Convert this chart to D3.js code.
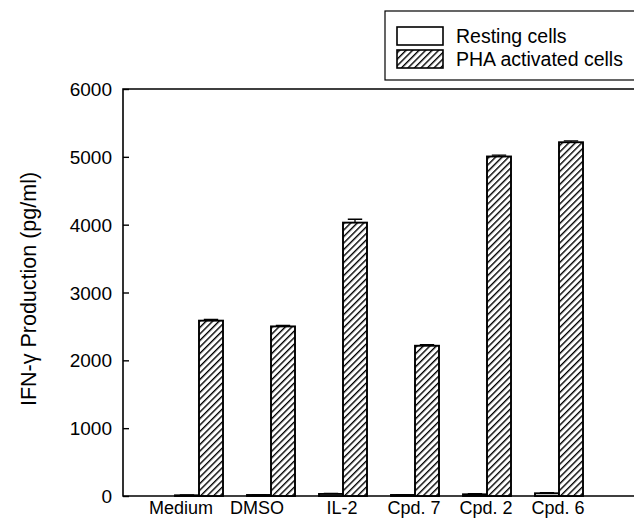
<!DOCTYPE html>
<html><head><meta charset="utf-8">
<script src="https://cdn.jsdelivr.net/npm/d3@7"></script>
<style>body{margin:0;background:#fff}svg{display:block}text{font-family:"Liberation Sans",Arial,sans-serif;fill:#000}</style>
</head><body><svg id="c" width="634" height="518"></svg>
<script>
const categories = ["Medium","DMSO","IL-2","Cpd. 7","Cpd. 2","Cpd. 6"];
const series = ["Resting cells","PHA activated cells"];
const resting = [10, 15, 30, 15, 25, 40];
const restingErr = [5, 5, 10, 5, 10, 10];
const pha = [2585, 2500, 4030, 2215, 5005, 5215];
const phaErr = [20, 15, 50, 15, 20, 20];
const yTicks = [0,1000,2000,3000,4000,5000,6000];

const svg = d3.select("#c");
const mLeft = 123, mRight = 640, mTop = 89, mBottom = 496;
const y = d3.scaleLinear().domain([0,6000]).range([mBottom, mTop]);
const x = d3.scaleBand().domain(categories).range([126, 630]).paddingOuter(0.5).paddingInner(0);
const bw = x.bandwidth();
const xs = d3.scaleBand().domain(series).range([bw/2-23, bw/2+25]);

const defs = svg.append("defs");
const pat = defs.append("pattern").attr("id","hatch").attr("patternUnits","userSpaceOnUse")
  .attr("width",4.6).attr("height",4.6).attr("patternTransform","rotate(45)");
pat.append("rect").attr("width",4.6).attr("height",4.6).attr("fill","#fff");
pat.append("line").attr("x1",0).attr("y1",0).attr("x2",0).attr("y2",4.6).attr("stroke","#000").attr("stroke-width",2.8);

// frame
svg.append("path").attr("d",`M${mRight},${mTop}H${mLeft}V${mBottom}H${mRight}`).attr("fill","none").attr("stroke","#000").attr("stroke-width",1.6);

// y axis
const ya = svg.append("g").attr("transform",`translate(${mLeft},0)`)
  .call(d3.axisLeft(y).tickValues(yTicks).tickSize(-6).tickPadding(11).tickFormat(d3.format("d")));
ya.select(".domain").remove();
ya.selectAll("line").attr("stroke","#000").attr("stroke-width",1.4);
ya.selectAll("text").style("font-size","19px").attr("dy","0.35em");

// x labels
const xa = svg.append("g").attr("transform",`translate(0,${mBottom})`)
  .call(d3.axisBottom(x).tickSize(0).tickPadding(5));
xa.select(".domain").remove();
xa.selectAll("text").style("font-size","18px").attr("dy","0.71em")
  .attr("dx",(d,i)=> i===0 ? -17 : i===1 ? -13 : 0);

// bars
const data = categories.map((c,i)=>({c, vals:[{s:series[0],v:resting[i],e:restingErr[i]},{s:series[1],v:pha[i],e:phaErr[i]}]}));
const g = svg.append("g").selectAll("g").data(data).join("g").attr("transform",d=>`translate(${x(d.c)},0)`);
g.selectAll("rect").data(d=>d.vals).join("rect")
  .attr("x",d=>xs(d.s)).attr("width",xs.bandwidth())
  .attr("y",d=>y(d.v)).attr("height",d=>mBottom-y(d.v))
  .attr("fill",d=>d.s===series[0]?"#fff":"url(#hatch)")
  .attr("stroke","#000").attr("stroke-width",1.9);
// error bars
g.selectAll("path.err").data(d=>d.vals).join("path").attr("class","err")
  .attr("d",d=>{const cx=xs(d.s)+xs.bandwidth()/2, w=xs.bandwidth()*0.3;
     return `M${cx},${y(d.v)}V${y(d.v+d.e)}M${cx-w},${y(d.v+d.e)}H${cx+w}`;})
  .attr("stroke","#000").attr("stroke-width",1.3).attr("fill","none");

// y title
svg.append("text").attr("transform","translate(36,289) rotate(-90)").attr("text-anchor","middle")
  .style("font-size","21.5px").text("IFN-γ Production (pg/ml)");

// legend
const lg = svg.append("g");
lg.append("rect").attr("x",385).attr("y",11).attr("width",260).attr("height",69).attr("fill","#fff").attr("stroke","#000").attr("stroke-width",1.2);
series.forEach((s,i)=>{
  lg.append("rect").attr("x",397).attr("y",27+i*23).attr("width",46).attr("height",18)
    .attr("fill",i===0?"#fff":"url(#hatch)").attr("stroke","#000").attr("stroke-width",1.6);
  lg.append("text").attr("x",456).attr("y",36+i*23).attr("dy","0.35em").style("font-size","19.5px").text(s);
});
</script></body></html>
